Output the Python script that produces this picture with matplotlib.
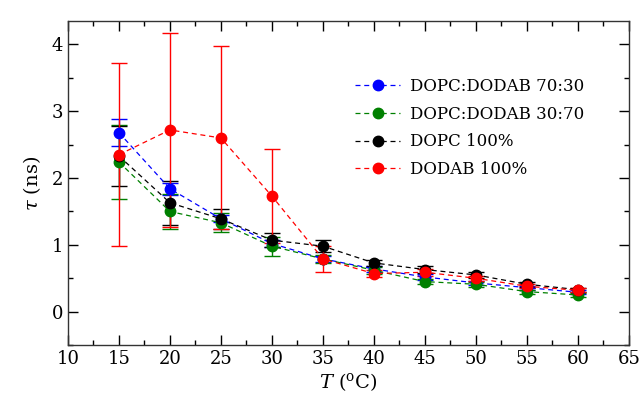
import matplotlib

matplotlib.use("Agg")
import matplotlib.pyplot as plt  # noqa: E402
from matplotlib.lines import Line2D  # noqa: E402
from matplotlib.ticker import MultipleLocator  # noqa: E402

plt.rcParams["font.family"] = ["DejaVu Serif"]
plt.rcParams["mathtext.fontset"] = "dejavuserif"

temps = [15, 20, 25, 30, 35, 40, 45, 50, 55, 60]

labels = ["DOPC:DODAB 70:30", "DOPC:DODAB 30:70", "DOPC 100%", "DODAB 100%"]
colors = ["blue", "green", "black", "red"]

tau_7030 = [2.68, 1.84, 1.39, 1.02, 0.79, 0.64, 0.52, 0.43, 0.36, 0.29]
err_7030 = [0.20, 0.09, 0.05, 0.05, 0.05, 0.04, 0.04, 0.03, 0.03, 0.03]

tau_3070 = [2.24, 1.50, 1.33, 0.98, 0.79, 0.62, 0.45, 0.41, 0.30, 0.25]
err_3070 = [0.55, 0.26, 0.14, 0.14, 0.06, 0.05, 0.04, 0.04, 0.03, 0.03]

tau_dopc = [2.33, 1.63, 1.39, 1.07, 0.98, 0.73, 0.63, 0.55, 0.41, 0.33]
err_dopc = [0.45, 0.33, 0.15, 0.10, 0.09, 0.05, 0.05, 0.04, 0.04, 0.03]

tau_dodab = [2.35, 2.72, 2.60, 1.73, 0.79, 0.57, 0.59, 0.50, 0.38, 0.32]
err_dodab = [1.37, 1.45, 1.37, 0.70, 0.19, 0.05, 0.05, 0.04, 0.03, 0.03]

series = [
    (tau_7030, err_7030),
    (tau_3070, err_3070),
    (tau_dopc, err_dopc),
    (tau_dodab, err_dodab),
]

fig = plt.figure(figsize=(6.41, 4.05), dpi=100)
ax = fig.add_axes([0.106, 0.148, 0.875, 0.800])

dash = (0, (4, 3))
handles = []
for (tau, err), lab, c in zip(series, labels, colors):
    ax.errorbar(temps, tau, yerr=err, color=c, ecolor=c, fmt="o", ms=7.5,
                ls=dash, lw=0.9, elinewidth=1.0, capsize=6, capthick=1.0)
    handles.append(Line2D([], [], color=c, marker="o", ms=7.5, ls=dash,
                          lw=0.9, label=lab))

ax.set_xlim(10, 65)
ax.set_ylim(-0.5, 4.35)
ax.xaxis.set_major_locator(MultipleLocator(5))
ax.xaxis.set_minor_locator(MultipleLocator(2.5))
ax.yaxis.set_major_locator(MultipleLocator(1))
ax.yaxis.set_minor_locator(MultipleLocator(0.5))
ax.tick_params(which="both", direction="in", top=True, right=True,
               labelsize=13, width=1.0)
ax.tick_params(which="major", length=7)
ax.tick_params(which="minor", length=3.6)
for sp in ax.spines.values():
    sp.set_linewidth(1.0)
    sp.set_color("#333333")

ax.set_xlabel(r"$T$ ($^\mathrm{o}$C)", fontsize=14, labelpad=2)
ax.set_ylabel(r"$\tau$ (ns)", fontsize=14, labelpad=6)

ax.legend(handles=handles, loc="upper left", bbox_to_anchor=(0.512, 0.825),
          frameon=False, fontsize=12, handlelength=2.7, labelspacing=0.65,
          handletextpad=0.6, borderpad=0, borderaxespad=0)

fig.savefig("out.png", dpi=100)
